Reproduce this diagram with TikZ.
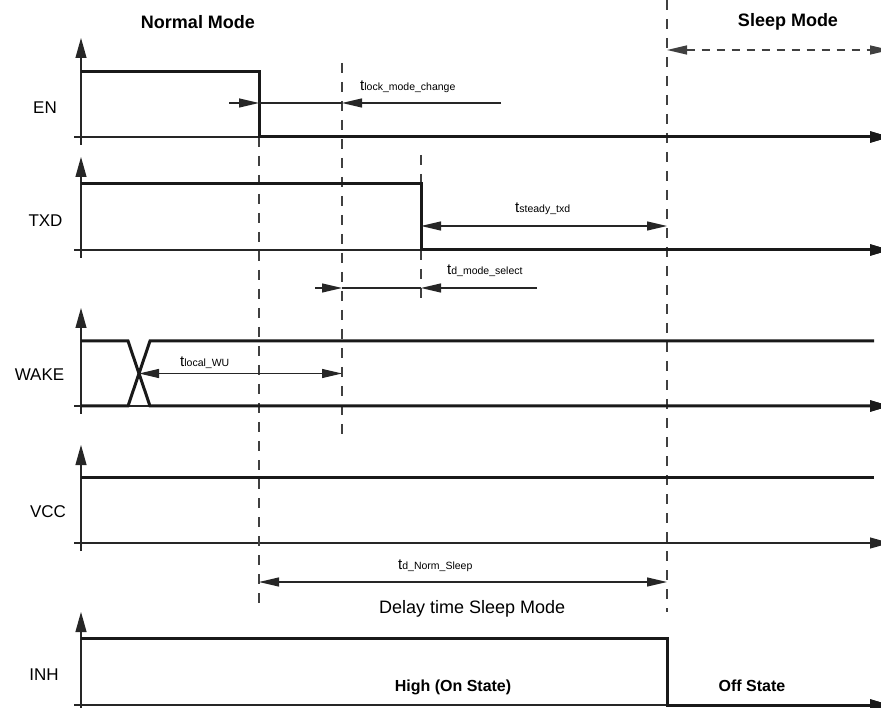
\documentclass[tikz,border=0pt]{standalone}
\usepackage{fontspec}
\setmainfont{Liberation Sans}
\usetikzlibrary{arrows.meta}

% timing symbol: large "t" followed by a small index
\newcommand\tlabel[1]{{\fontsize{15}{15}\selectfont t}{\fontsize{10.5}{10.5}\selectfont #1}}

\begin{document}
\begin{tikzpicture}[x=1pt,y=-1pt,
  axisline/.style={line width=1.2pt,draw=black!85},
  upaxis/.style={axisline,-{Triangle[length=20pt,width=11pt]}},
  rightaxis/.style={axisline,-{Triangle[length=20pt,width=11pt]}},
  sig/.style={line width=3pt,draw=black!90,line join=miter},
  sigarrow/.style={sig,-{Triangle[length=20pt,width=11pt]}},
  guide/.style={line width=1.4pt,draw=black!75,dash pattern=on 10pt off 9pt},
  dimline/.style={line width=1.2pt,draw=black!85},
  dimtip/.style={dimline,-{Triangle[length=20pt,width=9pt]}},
  dimboth/.style={dimline,{Triangle[length=20pt,width=9pt]}-{Triangle[length=20pt,width=9pt]}},
  modearrow/.style={line width=1.4pt,draw=black!75,dash pattern=on 8pt off 7pt,
    {Triangle[length=20pt,width=9pt]}-{Triangle[length=20pt,width=9pt]}},
  siglabel/.style={inner sep=0pt,font=\fontsize{17}{17}\selectfont},
  modelabel/.style={inner sep=0pt,font=\bfseries\fontsize{18}{18}\selectfont},
  statelabel/.style={inner sep=0pt,anchor=base,font=\bfseries\fontsize{16}{16}\selectfont},
  timelabel/.style={inner sep=0pt,anchor=base west}
]
\useasboundingbox (0,0) rectangle (881,708);

% ---------- axes ----------
\foreach \tip/\base/\nm in {38/137/en,157/250/txd,308/406/wake,445/543/vcc,612/705/inh}{
  \coordinate (\nm-bot) at (81,\base+8);
  \coordinate (\nm-top) at (81,\tip);
  \coordinate (\nm-left) at (74,\base);
  \coordinate (\nm-right) at (890,\base);
  \draw[upaxis] (\nm-bot) -- (\nm-top);
  \draw[rightaxis] (\nm-left) -- (\nm-right);
}

% ---------- guide lines ----------
\coordinate (g1a) at (259,137); \coordinate (g1b) at (259,607);
\coordinate (g2a) at (342,63);  \coordinate (g2b) at (342,437);
\coordinate (g3a) at (421,155); \coordinate (g3b) at (421,300);
\coordinate (g4a) at (667,0);   \coordinate (g4b) at (667,612);
\draw[guide] (g1a) -- (g1b);
\draw[guide] (g2a) -- (g2b);
\draw[guide] (g3a) -- (g3b);
\draw[guide] (g4a) -- (g4b);

% ---------- signals ----------
% EN
\coordinate (en-hi) at (81,72);
\coordinate (en-fall) at (259,137);
\draw[sigarrow] (en-hi) -| (en-fall) -- (en-right);
% TXD
\coordinate (txd-hi) at (81,184);
\coordinate (txd-fall) at (421,250);
\draw[sigarrow] (txd-hi) -| (txd-fall) -- (txd-right);
% WAKE
\coordinate (wk-h0) at (81,341);  \coordinate (wk-h1) at (128,341);
\coordinate (wk-l0) at (81,406);  \coordinate (wk-l1) at (128,406);
\coordinate (wk-h2) at (150,341); \coordinate (wk-l2) at (150,406);
\coordinate (wk-hend) at (874,341);
\draw[sigarrow] (wk-h0) -- (wk-h1) -- (wk-l2) -- (wake-right);
\draw[sig] (wk-l0) -- (wk-l1) -- (wk-h2) -- (wk-hend);
% VCC
\coordinate (vcc-h0) at (81,477); \coordinate (vcc-hend) at (874,477);
\draw[sig] (vcc-h0) -- (vcc-hend);
% INH
\coordinate (inh-hi) at (81,638);
\coordinate (inh-fall) at (667,705);
\draw[sigarrow] (inh-hi) -| (inh-fall) -- (inh-right);

% ---------- timing dimensions ----------
% t_lock_mode_change
\coordinate (lk-a) at (229,103); \coordinate (lk-b) at (259,103);
\coordinate (lk-c) at (342,103); \coordinate (lk-d) at (501,103);
\draw[dimtip] (lk-a) -- (lk-b);
\draw[dimline] (lk-b) -- (lk-c);
\draw[dimtip] (lk-d) -- (lk-c);
% t_steady_txd
\coordinate (st-a) at (421,226); \coordinate (st-b) at (667,226);
\draw[dimboth] (st-a) -- (st-b);
% t_d_mode_select
\coordinate (ms-a) at (315,288); \coordinate (ms-b) at (342,288);
\coordinate (ms-c) at (421,288); \coordinate (ms-d) at (537,288);
\draw[dimtip] (ms-a) -- (ms-b);
\draw[dimline] (ms-b) -- (ms-c);
\draw[dimtip] (ms-d) -- (ms-c);
% t_local_WU
\coordinate (wu-a) at (139,373.5); \coordinate (wu-b) at (342,373.5);
\draw[dimboth] (wu-a) -- (wu-b);
% t_d_Norm_Sleep
\coordinate (ns-a) at (259,582); \coordinate (ns-b) at (667,582);
\draw[dimboth] (ns-a) -- (ns-b);
% sleep mode span
\coordinate (sm-a) at (667,50); \coordinate (sm-b) at (890,50);
\draw[modearrow] (sm-a) -- (sm-b);

% ---------- labels ----------
\node[modelabel] (normal) at (198,22) {Normal Mode};
\node[modelabel] (sleep) at (788,22) {Sleep Mode};

\node[siglabel] (l-en)   at (45,108)   {EN};
\node[siglabel] (l-txd)  at (45.5,221) {TXD};
\node[siglabel] (l-wake) at (39.5,375) {WAKE};
\node[siglabel] (l-vcc)  at (48,512)   {VCC};
\node[siglabel] (l-inh)  at (44,675)   {INH};

\node[timelabel] (t-lock)   at (360,91)  {\tlabel{lock\_mode\_change}};
\node[timelabel] (t-steady) at (515,213) {\tlabel{steady\_txd}};
\node[timelabel] (t-msel)   at (447,275) {\tlabel{d\_mode\_select}};
\node[timelabel] (t-wu)     at (180,367) {\tlabel{local\_WU}};
\node[timelabel] (t-ns)     at (398,569) {\tlabel{d\_Norm\_Sleep}};

\node[inner sep=0pt,anchor=base west,font=\fontsize{18}{18}\selectfont] (delay) at (379,613) {Delay time Sleep Mode};

\node[statelabel] (s-high) at (453,691) {High (On State)};
\node[statelabel] (s-off)  at (752,691) {Off State};
\end{tikzpicture}
\end{document}
